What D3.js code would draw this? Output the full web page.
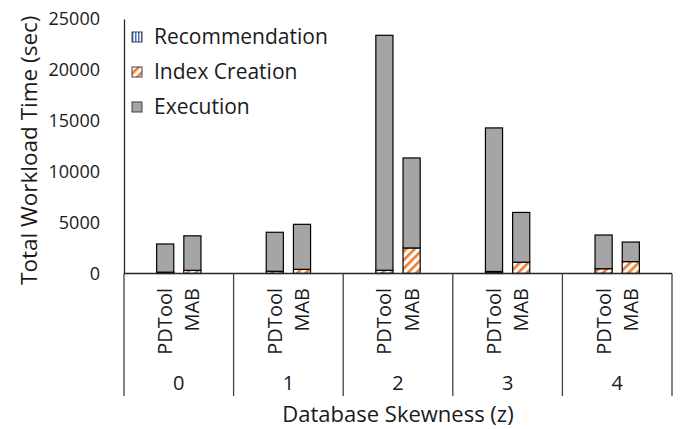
<!DOCTYPE html>
<html>
<head>
<meta charset="utf-8">
<script src="https://cdn.jsdelivr.net/npm/d3@7"></script>
<style>
  body { margin: 0; background: #fff; }
  text { font-family: "Open Sans", sans-serif; fill: #1a1a1a; }
</style>
</head>
<body>
<div id="graph"></div>
<script>
// data (seconds)
var skews = ["0", "1", "2", "3", "4"];
var tools = ["PDTool", "MAB"];
var parts = ["Recommendation", "Index Creation", "Execution"];
var yTicks = [0, 5000, 10000, 15000, 20000, 25000];

var recPDTool = [100, 20, 20, 150, 20];
var recMAB = [10, 10, 10, 10, 10];
var idxPDTool = [30, 200, 300, 50, 450];
var idxMAB = [300, 400, 2500, 1100, 1160];
var execPDTool = [2770, 3830, 23080, 14100, 3310];
var execMAB = [3390, 4420, 8840, 4890, 1920];

var rows = [];
skews.forEach(function(s, i) {
  rows.push({skew: s, tool: "PDTool", "Recommendation": recPDTool[i], "Index Creation": idxPDTool[i], "Execution": execPDTool[i]});
  rows.push({skew: s, tool: "MAB", "Recommendation": recMAB[i], "Index Creation": idxMAB[i], "Execution": execMAB[i]});
});

var w = 684, h = 429;
var plotLeft = 124, plotRight = 672, plotTop = 19, base = 273.5;

var svg = d3.select("#graph").append("svg")
  .attr("width", w)
  .attr("height", h);

// fills
var defs = svg.append("defs");
var stripes = defs.append("pattern")
  .attr("id", "idx")
  .attr("patternUnits", "userSpaceOnUse")
  .attr("width", 6).attr("height", 6)
  .attr("patternTransform", "rotate(45)");
stripes.append("rect").attr("width", 6).attr("height", 6).attr("fill", "#fff");
stripes.append("rect").attr("width", 2.6).attr("height", 6).attr("fill", "#ED7D31");

var vert = defs.append("pattern")
  .attr("id", "rec")
  .attr("patternUnits", "userSpaceOnUse")
  .attr("width", 3).attr("height", 3);
vert.append("rect").attr("width", 3).attr("height", 3).attr("fill", "#fff");
vert.append("rect").attr("width", 1.5).attr("height", 3).attr("fill", "#4472C4");

var fills = {"Recommendation": "url(#rec)", "Index Creation": "url(#idx)", "Execution": "#A5A5A5"};

var x0 = d3.scaleBand().domain(skews).range([plotLeft, plotRight]);
var x1 = d3.scaleBand().domain(tools).range([0, x0.bandwidth()])
  .paddingInner(0.37).paddingOuter(1.2);
var y = d3.scaleLinear().domain([0, 25000]).range([base, plotTop]);

// y axis
var yAxis = svg.append("g")
  .attr("transform", "translate(" + plotLeft + ",0)")
  .call(d3.axisLeft(y).tickValues(yTicks).tickFormat(d3.format("d")).tickSize(0).tickPadding(24));
yAxis.select(".domain").attr("stroke", "#262626").attr("stroke-width", 1.3);
yAxis.selectAll("text")
  .style("font-family", "'Open Sans', sans-serif")
  .style("font-size", "18px")
  .attr("fill", "#1a1a1a");

// stacked bars
var series = d3.stack().keys(parts)(rows);

svg.selectAll(".layer")
  .data(series)
  .enter()
  .append("g")
  .attr("class", "layer")
  .attr("fill", function(d) { return fills[d.key]; })
  .selectAll("rect")
  .data(function(d) { return d; })
  .enter()
  .append("rect")
  .attr("x", function(d) { return x0(d.data.skew) + x1(d.data.tool); })
  .attr("width", x1.bandwidth())
  .attr("y", function(d) { return y(d[1]); })
  .attr("height", function(d) { return y(d[0]) - y(d[1]); })
  .attr("stroke", "#000")
  .attr("stroke-width", 1.2);

// category axis: baseline and group separators
svg.append("line")
  .attr("x1", plotLeft).attr("x2", plotRight)
  .attr("y1", base).attr("y2", base)
  .attr("stroke", "#262626").attr("stroke-width", 1.3);

var edges = skews.map(function(s) { return x0(s); }).concat([plotRight]);
svg.selectAll(".sep")
  .data(edges)
  .enter()
  .append("line")
  .attr("class", "sep")
  .attr("x1", function(d) { return d; })
  .attr("x2", function(d) { return d; })
  .attr("y1", base)
  .attr("y2", 396)
  .attr("stroke", "#404040")
  .attr("stroke-width", 1.3);

svg.selectAll(".tool")
  .data(rows)
  .enter()
  .append("text")
  .attr("class", "tool")
  .attr("transform", function(d) {
    var cx = x0(d.skew) + x1(d.tool) + x1.bandwidth() / 2;
    return "translate(" + cx + ",288) rotate(-90)";
  })
  .attr("text-anchor", "end")
  .attr("dy", "0.35em")
  .style("font-size", "20px")
  .text(function(d) { return d.tool; });

svg.selectAll(".skew")
  .data(skews)
  .enter()
  .append("text")
  .attr("class", "skew")
  .attr("x", function(d) { return x0(d) + x0.bandwidth() / 2; })
  .attr("y", 383)
  .attr("dy", "0.35em")
  .attr("text-anchor", "middle")
  .style("font-size", "20px")
  .text(function(d) { return d; });

// titles
svg.append("text")
  .attr("x", (plotLeft + plotRight) / 2)
  .attr("y", 414)
  .attr("dy", "0.35em")
  .attr("text-anchor", "middle")
  .style("font-size", "22px")
  .text("Database Skewness (z)");

svg.append("text")
  .attr("transform", "translate(29," + ((plotTop + base) / 2 + 4) + ") rotate(-90)")
  .attr("dy", "0.35em")
  .attr("text-anchor", "middle")
  .style("font-size", "22.5px")
  .text("Total Workload Time (sec)");

// legend
var legend = svg.selectAll(".legend")
  .data(parts)
  .enter()
  .append("g")
  .attr("class", "legend")
  .attr("transform", function(d, i) { return "translate(132," + (37 + i * 35) + ")"; });

legend.append("rect")
  .attr("x", 0).attr("y", -5)
  .attr("width", 10).attr("height", 10)
  .attr("fill", function(d) { return fills[d]; })
  .attr("stroke", "#404040")
  .attr("stroke-width", 1);

legend.append("text")
  .attr("x", 22)
  .attr("dy", "0.35em")
  .style("font-size", "21px")
  .text(function(d) { return d; });
</script>
</body>
</html>
